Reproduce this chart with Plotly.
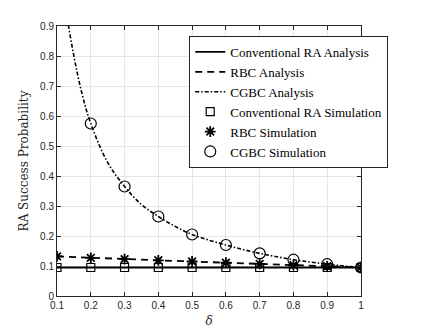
import plotly.graph_objects as go

# analysis curves (dense) and simulation points
delta_fine = [0.1, 0.125, 0.15, 0.175, 0.2, 0.25, 0.3, 0.35, 0.4, 0.45, 0.5,
              0.55, 0.6, 0.65, 0.7, 0.75, 0.8, 0.85, 0.9, 0.95, 1.0]
cgbc_analysis = [1.25, 0.97, 0.80, 0.67, 0.575, 0.445, 0.365, 0.305, 0.265, 0.232, 0.205,
                 0.186, 0.170, 0.155, 0.142, 0.131, 0.121, 0.113, 0.106, 0.100, 0.095]

delta = [0.1, 0.2, 0.3, 0.4, 0.5, 0.6, 0.7, 0.8, 0.9, 1.0]
conv_analysis = [0.095] * 10
rbc_analysis = [0.132, 0.127, 0.123, 0.119, 0.115, 0.111, 0.107, 0.103, 0.099, 0.095]

conv_sim = [0.095, 0.095, 0.095, 0.095, 0.095, 0.095, 0.095, 0.095, 0.095, 0.095]
rbc_sim = [0.132, 0.127, 0.123, 0.119, 0.115, 0.111, 0.107, 0.103, 0.099, 0.095]
cgbc_sim = [1.25, 0.575, 0.365, 0.265, 0.205, 0.170, 0.142, 0.121, 0.106, 0.095]

fig = go.Figure()

fig.add_trace(go.Scatter(x=delta, y=conv_analysis, mode="lines", name="Conventional RA Analysis",
                         line=dict(color="black", width=1.8)))
fig.add_trace(go.Scatter(x=delta, y=rbc_analysis, mode="lines", name="RBC Analysis",
                         line=dict(color="black", width=1.8, dash="7px,5px")))
fig.add_trace(go.Scatter(x=delta_fine, y=cgbc_analysis, mode="lines", name="CGBC Analysis",
                         line=dict(color="black", width=1.6, dash="4px,2px,1.5px,2px", shape="spline")))
fig.add_trace(go.Scatter(x=delta, y=conv_sim, mode="markers", name="Conventional RA Simulation",
                         marker=dict(symbol="square-open", size=8, color="black", line=dict(width=1.2))))
fig.add_trace(go.Scatter(x=delta, y=rbc_sim, mode="markers", name="RBC Simulation",
                         marker=dict(symbol="asterisk-open", size=9, color="black", line=dict(width=1.8))))
fig.add_trace(go.Scatter(x=delta[1:], y=cgbc_sim[1:], mode="markers", name="CGBC Simulation",
                         marker=dict(symbol="circle-open", size=11, color="black", line=dict(width=1.2))))

axis_common = dict(showline=True, linecolor="#262626", linewidth=1, mirror="ticks",
                   ticks="inside", ticklen=4, tickcolor="#262626",
                   showgrid=True, gridcolor="#e6e6e6", gridwidth=1, zeroline=False,
                   tickfont=dict(family="Liberation Sans, Arial", size=10, color="#262626"))

fig.update_xaxes(range=[0.1, 1], tickvals=delta, ticktext=["0.1", "0.2", "0.3", "0.4", "0.5",
                                                          "0.6", "0.7", "0.8", "0.9", "1"],
                 title=dict(text="<i>δ</i>", font=dict(family="DejaVu Serif", size=12, color="#262626"),
                            standoff=6),
                 **axis_common)
fig.update_yaxes(range=[0, 0.9], dtick=0.1,
                 title=dict(text="RA Success Probability",
                            font=dict(family="DejaVu Serif", size=12, color="#262626"), standoff=8),
                 **axis_common)

# page body has an 8px margin, so margins are shifted to land the axes where the reference has them
fig.update_layout(
    width=443, height=332,
    margin=dict(l=49, r=90, t=16, b=44),
    plot_bgcolor="white", paper_bgcolor="white",
    showlegend=True,
    legend=dict(x=0.435, y=0.963, xanchor="left", yanchor="top",
                bgcolor="white", bordercolor="#262626", borderwidth=1,
                font=dict(family="Liberation Serif", size=13, color="black"),
                tracegroupgap=0, itemwidth=30),
)

fig.write_html("out.html")
